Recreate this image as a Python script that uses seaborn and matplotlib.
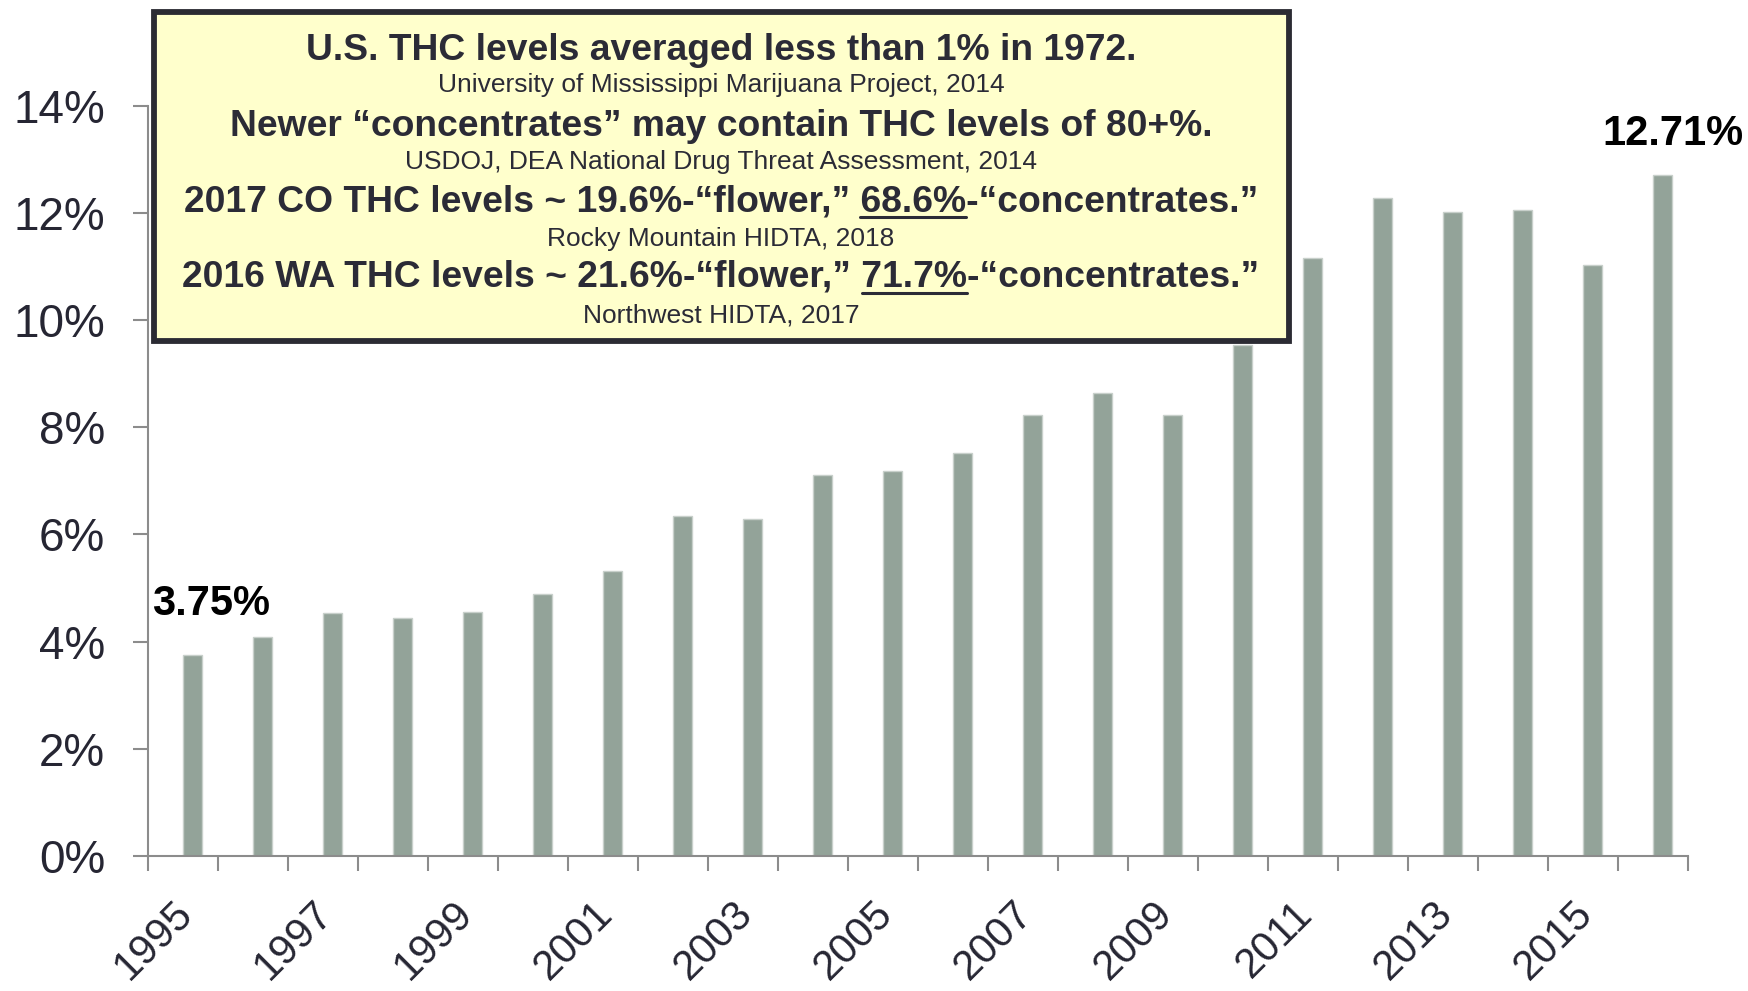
import matplotlib
matplotlib.use('Agg')
import matplotlib.pyplot as plt
import seaborn as sns
import pandas as pd
import numpy as np
from matplotlib.patches import Rectangle
from matplotlib.lines import Line2D
from matplotlib.ticker import FuncFormatter

# ---------------- data ----------------
years = [str(y) for y in range(1995, 2017)]
thc = [3.75, 4.08, 4.54, 4.44, 4.56, 4.88, 5.31, 6.35, 6.29, 7.10, 7.19,
       7.52, 8.23, 8.63, 8.23, 9.54, 11.15, 12.28, 12.01, 12.06, 11.03, 12.71]
label_years = years[::2]
yticks = [0, 2, 4, 6, 8, 10, 12, 14]

box_lines = [
    ("U.S. THC levels averaged less than 1% in 1972.", "bold", None),
    ("University of Mississippi Marijuana Project, 2014", "normal", None),
    ("Newer \u201cconcentrates\u201d may contain THC levels of 80+%.", "bold", None),
    ("USDOJ, DEA National Drug Threat Assessment, 2014", "normal", None),
    ("2017 CO THC levels ~ 19.6%-\u201cflower,\u201d 68.6%-\u201cconcentrates.\u201d", "bold", "68.6%"),
    ("Rocky Mountain HIDTA, 2018", "normal", None),
    ("2016 WA THC levels ~ 21.6%-\u201cflower,\u201d 71.7%-\u201cconcentrates.\u201d", "bold", "71.7%"),
    ("Northwest HIDTA, 2017", "normal", None),
]

# ---------------- style ----------------
sns.set_style('white')
plt.rcParams['font.family'] = ['Liberation Sans', 'DejaVu Sans']

W, H = 1748, 991
fig = plt.figure(figsize=(W / 100, H / 100), dpi=100)
fig.patch.set_facecolor('white')

def fx(x):
    return x / W

def fy(y):
    return 1 - y / H

AX_L, AX_B, AX_W, AX_T = 147.7, 856.0, 1540.0, 105.7
ax = fig.add_axes([fx(AX_L), fy(AX_B), AX_W / W, (AX_B - AX_T) / H])

df = pd.DataFrame({'year': years, 'thc': thc})
sns.barplot(data=df, x='year', y='thc', color='#93A399', saturation=1,
            width=0.275, edgecolor='#C8D0CB', linewidth=1.0, ax=ax, zorder=2)

offset = 0.643
ax.set_xlim(-offset, len(years) - offset)
ax.set_ylim(0, 14)
ax.set_xlabel('')
ax.set_ylabel('')

axis_col = '#8C8C8C'
text_col = '#262633'
for s in ['top', 'right']:
    ax.spines[s].set_visible(False)
for s in ['left', 'bottom']:
    ax.spines[s].set_color(axis_col)
    ax.spines[s].set_linewidth(1.5)

# year labels (every other year), shifted slightly left so the rotated text
# ends under its bar
ax.set_xticks([i - 0.29 for i in range(0, len(years), 2)])
ax.set_xticklabels(label_years)
ax.set_xticks(np.arange(len(years) + 1) - offset, minor=True)
ax.tick_params(axis='x', which='both', bottom=True)
ax.tick_params(axis='x', which='major', length=0, pad=27, labelsize=30,
               labelcolor=text_col)
ax.tick_params(axis='x', which='minor', length=10.5, width=1.5,
               color=axis_col, direction='out')
plt.setp(ax.get_xticklabels(), rotation=45, ha='right', va='top',
         rotation_mode='anchor')

ax.set_yticks(yticks)
ax.yaxis.set_major_formatter(FuncFormatter(lambda v, p: f"{v:.0f}%"))
ax.tick_params(axis='y', left=True, length=10.5, width=1.5, color=axis_col,
               pad=20, labelsize=33, labelcolor=text_col, direction='out')

# value labels for first and last bar
ax.text(0 - 0.58, thc[0] + 0.95, f"{thc[0]:.2f}%", fontsize=30,
        fontweight='bold', color='black', ha='left', va='center', clip_on=False)
ax.text(len(thc) - 1 - 0.867, thc[-1] + 0.77, f"{thc[-1]:.2f}%", fontsize=30,
        fontweight='bold', color='black', ha='left', va='center', clip_on=False)

# ---------------- annotation box ----------------
box_l, box_t, box_r, box_b = 153.5, 12.5, 1288.5, 341.0
rect = Rectangle((fx(box_l), fy(box_b)), (box_r - box_l) / W, (box_b - box_t) / H,
                 transform=fig.transFigure, facecolor='#FFFFCC',
                 edgecolor='#2B2B33', linewidth=4.2, zorder=5)
fig.add_artist(rect)

cx = (box_l + box_r) / 2
baselines = [60, 92, 136, 169, 211.5, 246, 287, 323]
box_text_col = '#2B2B36'
renderer = fig.canvas.get_renderer()
for (txt, weight, ul), yb in zip(box_lines, baselines):
    size = 26.8 if weight == 'bold' else 19
    t = fig.text(fx(cx), fy(yb), txt, ha='center', va='baseline', fontsize=size,
                 fontweight=weight, color=box_text_col, zorder=6)
    if ul:
        bb = t.get_window_extent(renderer=renderer)
        pre = txt[:txt.index(ul) + len(ul)]
        t1 = fig.text(0, 0, pre, fontsize=size, fontweight=weight)
        t2 = fig.text(0, 0, ul, fontsize=size, fontweight=weight)
        w1 = t1.get_window_extent(renderer=renderer).width
        w2 = t2.get_window_extent(renderer=renderer).width
        t1.remove(); t2.remove()
        x_end = bb.x0 + w1
        x_start = x_end - w2
        ypix = (H - yb) - 5.5
        fig.add_artist(Line2D([x_start / W, x_end / W], [ypix / H, ypix / H],
                              transform=fig.transFigure, color=box_text_col,
                              linewidth=2.2, zorder=6))

fig.savefig('out.png', dpi=100)
